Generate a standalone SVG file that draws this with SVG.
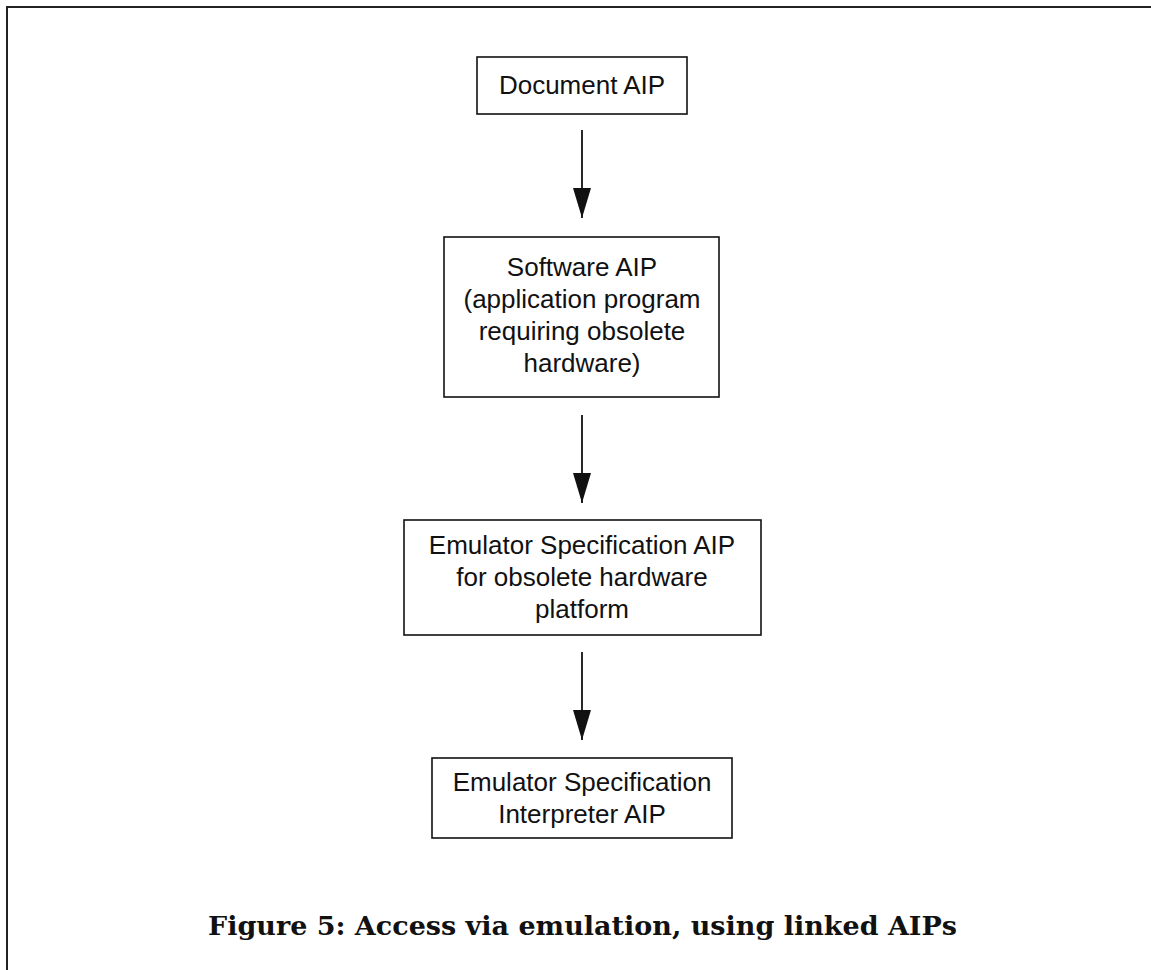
<svg xmlns="http://www.w3.org/2000/svg" width="1151" height="970" viewBox="0 0 1151 970">
<style>
.box{fill:#fff;stroke:#111;stroke-width:1.6}
.lbl{font-family:"Liberation Sans",Arial,sans-serif;font-size:26px;fill:#111;text-anchor:middle}
.edge{stroke:#111;stroke-width:1.8;fill:none}
.cap{font-family:"DejaVu Serif","Liberation Serif",serif;font-weight:bold;font-size:26px;fill:#111}
</style>
<defs>
<marker id="ah" markerUnits="userSpaceOnUse" markerWidth="30" markerHeight="18" refX="30" refY="9" orient="auto">
<path d="M0,0 L30,9 L0,18 z" fill="#111"/>
</marker>
</defs>
<rect width="1151" height="970" fill="#fff"/>
<path d="M7,970 V7 H1151" stroke="#222" stroke-width="2" fill="none"/>
<g id="connectors">
<line class="edge" x1="582" y1="130" x2="582" y2="218" marker-end="url(#ah)"/>
<line class="edge" x1="582" y1="415" x2="582" y2="503" marker-end="url(#ah)"/>
<line class="edge" x1="582" y1="652" x2="582" y2="740" marker-end="url(#ah)"/>
</g>
<g id="document-aip">
<rect class="box" x="477" y="57" width="210" height="57"/>
<text class="lbl" x="582" y="94">Document AIP</text>
</g>
<g id="software-aip">
<rect class="box" x="444" y="237" width="275" height="160"/>
<text class="lbl" x="582" y="276">Software AIP</text>
<text class="lbl" x="582" y="308">(application program</text>
<text class="lbl" x="582" y="340">requiring obsolete</text>
<text class="lbl" x="582" y="372">hardware)</text>
</g>
<g id="emulator-spec-aip">
<rect class="box" x="404" y="520" width="357" height="115"/>
<text class="lbl" x="582" y="554">Emulator Specification AIP</text>
<text class="lbl" x="582" y="586">for obsolete hardware</text>
<text class="lbl" x="582" y="618">platform</text>
</g>
<g id="interpreter-aip">
<rect class="box" x="432" y="758" width="300" height="80"/>
<text class="lbl" x="582" y="791">Emulator Specification</text>
<text class="lbl" x="582" y="823">Interpreter AIP</text>
</g>
<text class="cap" x="208" y="935" textLength="749" lengthAdjust="spacingAndGlyphs">Figure 5: Access via emulation, using linked AIPs</text>
</svg>
